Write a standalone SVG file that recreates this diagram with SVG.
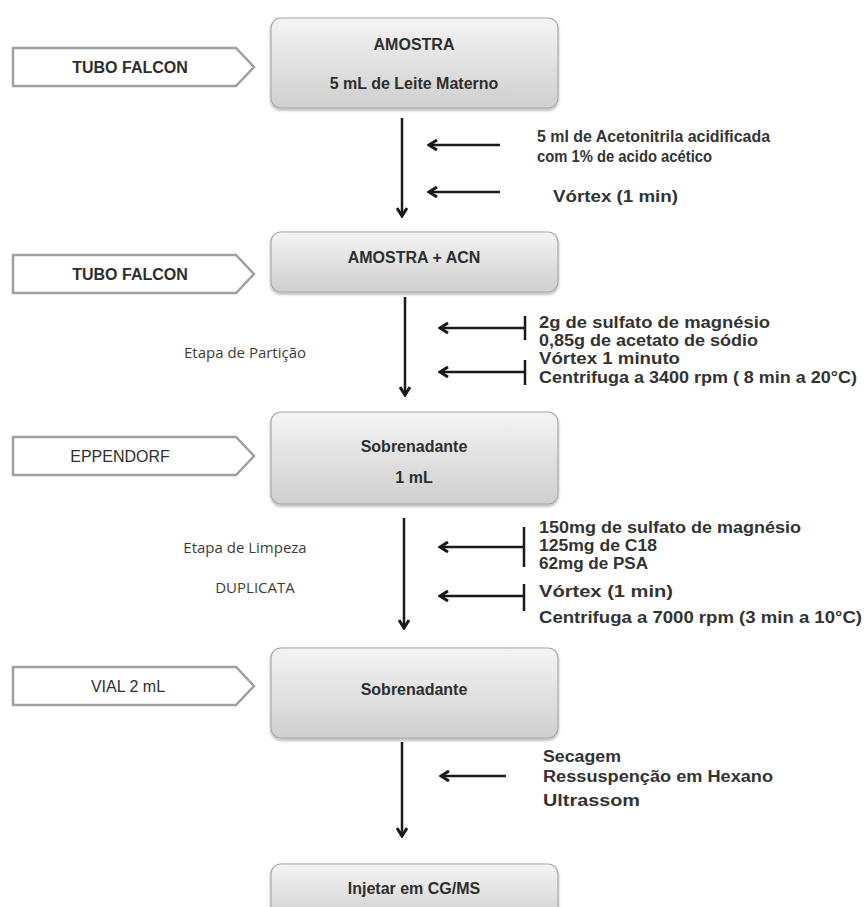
<svg xmlns="http://www.w3.org/2000/svg" width="866" height="907" viewBox="0 0 866 907">
<defs>
<linearGradient id="g" x1="0" y1="0" x2="0" y2="1">
<stop offset="0" stop-color="#f4f4f4"/>
<stop offset="1" stop-color="#cfcfcf"/>
</linearGradient>
<filter id="sh" x="-10%" y="-10%" width="120%" height="130%">
<feDropShadow dx="0" dy="2" stdDeviation="1.5" flood-color="#000" flood-opacity="0.3"/>
</filter>
<marker id="ah" viewBox="0 0 12 12" refX="10" refY="6" markerWidth="12" markerHeight="12" markerUnits="userSpaceOnUse" orient="auto">
<path d="M2,1 L10,6 L2,11" fill="none" stroke="#1a1a1a" stroke-width="3"/>
</marker>
</defs>
<style>
.box{fill:url(#g);stroke:#a8a8a8;stroke-width:1.2;filter:url(#sh)}
.tag{fill:#fff;stroke:#a0a0a0;stroke-width:2.5}
.t{font-family:"Liberation Sans",Arial,sans-serif;font-weight:bold;font-size:16px;fill:#2e2e2e;text-anchor:middle}
.tr{font-family:"Liberation Sans",Arial,sans-serif;font-size:16px;fill:#2e2e2e;text-anchor:middle}
.n{font-family:"Liberation Sans",Arial,sans-serif;font-weight:bold;font-size:16px;fill:#333}
.lbl{font-family:"Open Sans","Liberation Sans",sans-serif;font-size:15px;fill:#3c3c3c;text-anchor:middle}
.c{stroke:#1a1a1a;stroke-width:2.5;fill:none}
</style>

<g id="connectors">
<line class="c" x1="402" y1="118" x2="402" y2="216" marker-end="url(#ah)"/>
<line class="c" x1="500" y1="145" x2="429" y2="145" marker-end="url(#ah)"/>
<line class="c" x1="500" y1="192" x2="429" y2="192" marker-end="url(#ah)"/>

<line class="c" x1="405" y1="297" x2="405" y2="395" marker-end="url(#ah)"/>
<line class="c" x1="525" y1="328" x2="440" y2="328" marker-end="url(#ah)"/>
<line class="c" x1="525" y1="316" x2="525" y2="340"/>
<line class="c" x1="525" y1="372" x2="440" y2="372" marker-end="url(#ah)"/>
<line class="c" x1="525" y1="360" x2="525" y2="385"/>

<line class="c" x1="404" y1="518" x2="404" y2="628" marker-end="url(#ah)"/>
<line class="c" x1="524" y1="547" x2="440" y2="547" marker-end="url(#ah)"/>
<line class="c" x1="524" y1="527" x2="524" y2="567"/>
<line class="c" x1="524" y1="596" x2="440" y2="596" marker-end="url(#ah)"/>
<line class="c" x1="524" y1="584" x2="524" y2="611"/>

<line class="c" x1="402" y1="742" x2="402" y2="836" marker-end="url(#ah)"/>
<line class="c" x1="506" y1="776" x2="441" y2="776" marker-end="url(#ah)"/>
</g>

<g id="tag1"><path class="tag" d="M13,48 H236 L254,67 L236,86 H13 Z"/><text class="t" x="130" y="73">TUBO FALCON</text></g>
<g id="tag2"><path class="tag" d="M13,255 H236 L254,274 L236,293 H13 Z"/><text class="t" x="130" y="280">TUBO FALCON</text></g>
<g id="tag3"><path class="tag" d="M13,437 H236 L254,456 L236,475 H13 Z"/><text class="tr" x="120" y="462">EPPENDORF</text></g>
<g id="tag4"><path class="tag" d="M13,667 H236 L254,686 L236,705 H13 Z"/><text class="tr" x="128" y="692">VIAL 2 mL</text></g>

<g id="node1"><rect class="box" x="271" y="18" width="287" height="90" rx="10"/>
<text class="t" x="414" y="50">AMOSTRA</text>
<text class="t" x="414" y="89">5 mL de Leite Materno</text></g>
<g id="node2"><rect class="box" x="271" y="232" width="287" height="60" rx="10"/>
<text class="t" x="414" y="263">AMOSTRA  + ACN</text></g>
<g id="node3"><rect class="box" x="271" y="412" width="287" height="92" rx="10"/>
<text class="t" x="414" y="452">Sobrenadante</text>
<text class="t" x="414" y="483">1 mL</text></g>
<g id="node4"><rect class="box" x="271" y="648" width="287" height="90" rx="10"/>
<text class="t" x="414" y="695">Sobrenadante</text></g>
<g id="node5"><rect class="box" x="271" y="864" width="287" height="60" rx="10"/>
<text class="t" x="414" y="894">Injetar em CG/MS</text></g>

<g id="labels">
<text class="n" x="537" y="142" textLength="233" lengthAdjust="spacingAndGlyphs">5 ml de  Acetonitrila acidificada</text>
<text class="n" x="537" y="162" textLength="175" lengthAdjust="spacingAndGlyphs">com 1% de acido acético</text>
<text class="n" x="553" y="202" textLength="125" lengthAdjust="spacingAndGlyphs">Vórtex (1 min)</text>

<text class="lbl" x="245" y="358">Etapa de Partição</text>
<text class="n" x="539" y="328" textLength="231" lengthAdjust="spacingAndGlyphs">2g de sulfato de magnésio</text>
<text class="n" x="539" y="346" textLength="219" lengthAdjust="spacingAndGlyphs">0,85g de acetato de sódio</text>
<text class="n" x="539" y="364" textLength="141" lengthAdjust="spacingAndGlyphs">Vórtex 1 minuto</text>
<text class="n" x="539" y="383" textLength="318" lengthAdjust="spacingAndGlyphs">Centrifuga a 3400 rpm ( 8 min a 20°C)</text>

<text class="lbl" x="245" y="553">Etapa de Limpeza</text>
<text class="lbl" x="255" y="593">DUPLICATA</text>
<text class="n" x="539" y="533" textLength="262" lengthAdjust="spacingAndGlyphs">150mg de sulfato de magnésio</text>
<text class="n" x="539" y="551" textLength="118" lengthAdjust="spacingAndGlyphs">125mg de C18</text>
<text class="n" x="539" y="569" textLength="109" lengthAdjust="spacingAndGlyphs">62mg de PSA</text>
<text class="n" x="539" y="597" textLength="134" lengthAdjust="spacingAndGlyphs">Vórtex (1 min)</text>
<text class="n" x="539" y="623" textLength="323" lengthAdjust="spacingAndGlyphs">Centrifuga  a 7000 rpm (3 min a 10°C)</text>

<text class="n" x="543" y="762" textLength="78" lengthAdjust="spacingAndGlyphs">Secagem</text>
<text class="n" x="543" y="782" textLength="230" lengthAdjust="spacingAndGlyphs">Ressuspenção em Hexano</text>
<text class="n" x="543" y="806" textLength="97" lengthAdjust="spacingAndGlyphs">Ultrassom</text>
</g>
</svg>
